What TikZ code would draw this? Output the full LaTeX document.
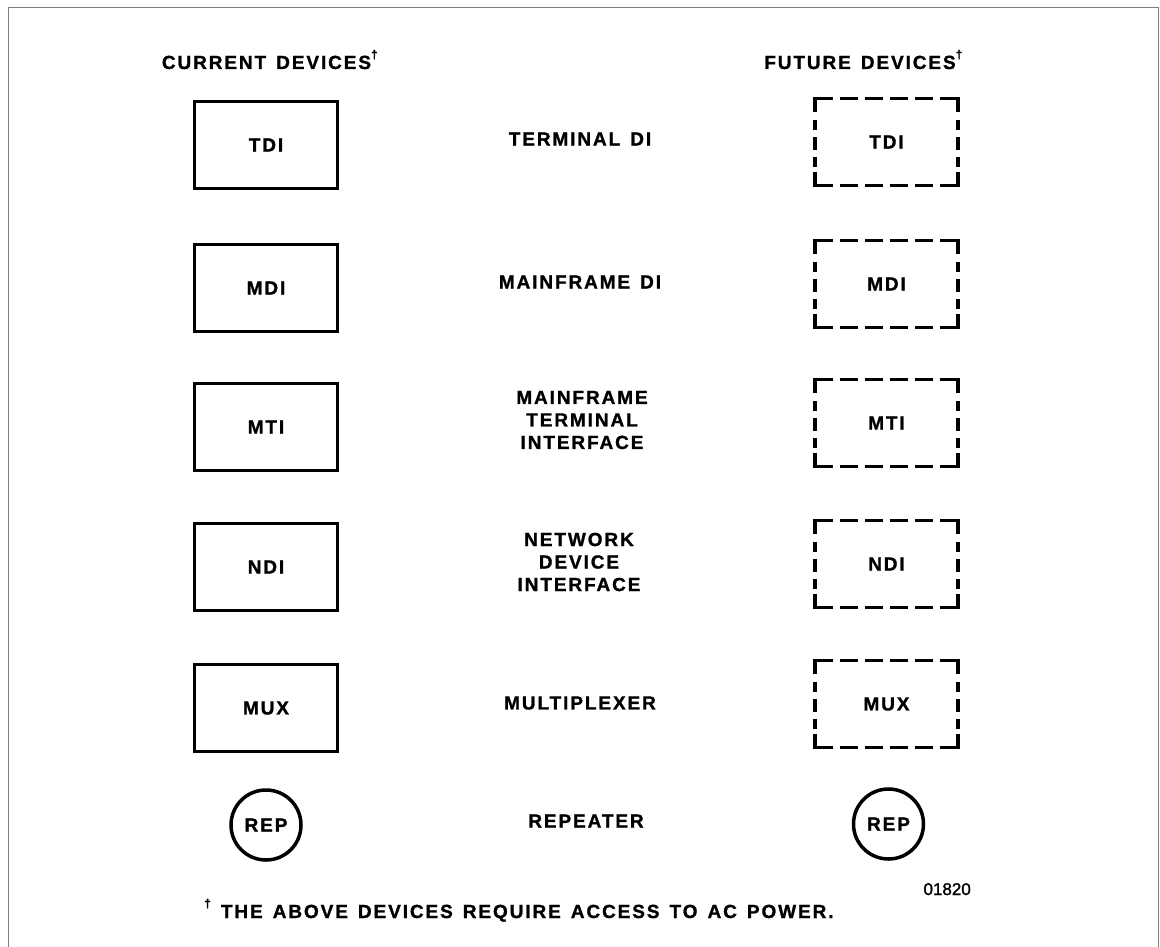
\documentclass[tikz,border=0pt]{standalone}
\usepackage{fontspec}
\setmainfont{Liberation Sans}
\newfontfamily\labfont{Liberation Sans Bold}[LetterSpace=10, WordSpace=1.4, RawFeature={embolden=1.2}]
\newfontfamily\numfont{Liberation Sans}[RawFeature={embolden=1.5}]
\newcommand\dg{\raisebox{0.55em}{\fontsize{12}{12}\selectfont\symbol{"2020}}}
\begin{document}
\begin{tikzpicture}[x=1pt,y=-1pt,
  lab/.style={font=\labfont\fontsize{19}{22.5}\selectfont, inner sep=0pt, align=center},
  devbox/.style={draw, line width=3.5pt, minimum width=143pt, minimum height=87pt, inner sep=0pt, lab},
  futbox/.style={minimum width=143pt, minimum height=87pt, inner sep=0pt, lab},
  repcirc/.style={circle, draw, line width=3.5pt, minimum size=70pt, inner sep=0pt, lab},
  hdash/.style={line width=3.5pt, line cap=rect, dash pattern=on 16pt off 11pt on 14pt off 11pt on 14pt off 11pt on 14pt off 11pt on 14pt off 11pt on 40pt},
  vdash/.style={line width=3.5pt, line cap=rect, dash pattern=on 12pt off 11pt on 7pt off 10pt on 10pt off 10pt on 7pt off 8pt on 30pt},
  framecol/.style={draw=black!50, line width=0.9pt}]
\useasboundingbox (0,0) rectangle (1160,946);
% page frame
\draw[framecol] (8,960) -- (8,7) -- (1158.5,7) -- (1158.5,960);

% headers
\node[lab, anchor=center] (hcur) at (266.5,59.5) {CURRENT DEVICES\rlap{\dg}};
\node[lab, anchor=center] (hfut) at (860,59.5) {FUTURE DEVICES\rlap{\dg}};

% current devices
\node[devbox] (ctdi) at (266,145) {TDI};
\node[devbox] (cmdi) at (266,288) {MDI};
\node[devbox] (cmti) at (266,427) {MTI};
\node[devbox] (cndi) at (266,567) {NDI};
\node[devbox] (cmux) at (266,708) {MUX};
\node[repcirc] (crep) at (266,825) {REP};

% descriptions
\node[lab] (dtdi) at (580,139) {TERMINAL DI};
\node[lab] (dmdi) at (580,282) {MAINFRAME DI};
\node[lab] (dmti) at (582,420) {MAINFRAME\\TERMINAL\\INTERFACE};
\node[lab] (dndi) at (579,562) {NETWORK\\DEVICE\\INTERFACE};
\node[lab] (dmux) at (580,703) {MULTIPLEXER};
\node[lab] (drep) at (586,821) {REPEATER};

% future devices
\foreach \n/\t/\y in {ftdi/TDI/142, fmdi/MDI/284, fmti/MTI/423, fndi/NDI/564, fmux/MUX/704}{
  \node[futbox] (\n) at (886.5,\y) {\t};
  \draw[hdash] (\n.north west) -- (\n.north east);
  \draw[hdash] (\n.south west) -- (\n.south east);
  \draw[vdash] (\n.north west) -- (\n.south west);
  \draw[vdash] (\n.north east) -- (\n.south east);
}
\node[repcirc] (frep) at (888.5,824) {REP};

% figure number and footnote
\node[font=\numfont\fontsize{17}{17}\selectfont, inner sep=0pt, anchor=base east] (fignum) at (971,895) {01820};
\node[lab, anchor=base west] (foot) at (204,918) {\dg\ THE ABOVE DEVICES REQUIRE ACCESS TO AC POWER.};
\end{tikzpicture}
\end{document}
